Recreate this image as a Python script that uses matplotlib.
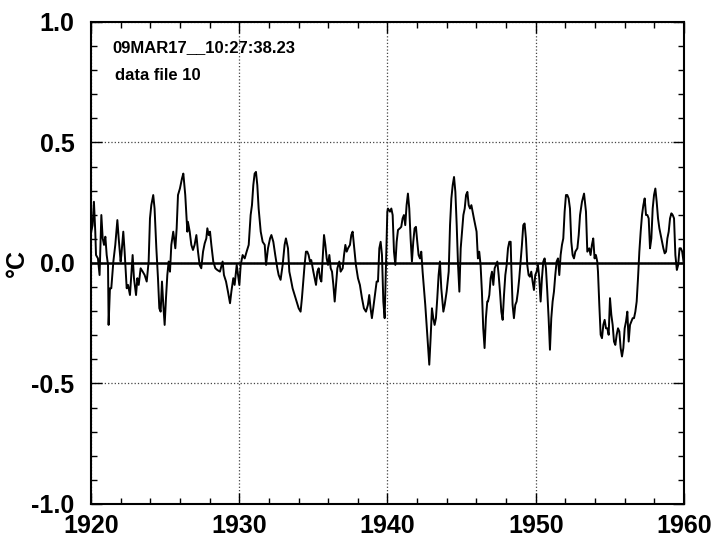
import matplotlib
matplotlib.use("Agg")
import matplotlib.pyplot as plt
from matplotlib.ticker import MultipleLocator

# anomaly series (year, degC)
years = [
    1920.02, 1920.11, 1920.20, 1920.29, 1920.34, 1920.47, 1920.58, 1920.70, 1920.79, 1920.88,
    1920.97, 1921.06, 1921.15, 1921.19, 1921.28, 1921.37, 1921.51, 1921.64, 1921.78, 1921.87,
    1922.00, 1922.05, 1922.18, 1922.27, 1922.41, 1922.50, 1922.63, 1922.72, 1922.81, 1922.90,
    1923.04, 1923.13, 1923.22, 1923.35, 1923.49, 1923.62, 1923.76, 1923.89, 1923.98, 1924.07,
    1924.20, 1924.29, 1924.41, 1924.52, 1924.61, 1924.70, 1924.79, 1924.88, 1924.97, 1925.06,
    1925.15, 1925.24, 1925.33, 1925.42, 1925.55, 1925.69, 1925.78, 1925.87, 1926.00, 1926.14,
    1926.23, 1926.36, 1926.50,
    1926.54, 1926.66, 1926.77, 1926.88, 1926.99, 1927.11, 1927.22, 1927.33, 1927.44, 1927.56,
    1927.67, 1927.78, 1927.85, 1927.94, 1928.03, 1928.12, 1928.25, 1928.39, 1928.52, 1928.70,
    1928.88, 1928.97, 1929.11, 1929.24, 1929.38, 1929.47, 1929.60, 1929.69, 1929.83, 1929.92,
    1930.01, 1930.10, 1930.23, 1930.37, 1930.50, 1930.64, 1930.77, 1930.86, 1930.95, 1931.04,
    1931.13, 1931.22, 1931.31, 1931.45, 1931.58, 1931.72, 1931.81, 1931.94, 1932.08, 1932.17,
    1932.30, 1932.43, 1932.57, 1932.66, 1932.79, 1932.93, 1933.06, 1933.15, 1933.29,
    1933.38, 1933.47, 1933.60, 1933.74, 1933.87, 1934.01, 1934.14, 1934.23, 1934.32, 1934.41,
    1934.50, 1934.59, 1934.68, 1934.77, 1934.86, 1935.00, 1935.09, 1935.18, 1935.27, 1935.36,
    1935.45, 1935.54, 1935.63, 1935.72, 1935.81, 1935.90, 1935.99, 1936.08, 1936.17, 1936.26,
    1936.35, 1936.44, 1936.53, 1936.62, 1936.75, 1936.84, 1936.98, 1937.07, 1937.16, 1937.25,
    1937.34, 1937.47, 1937.56, 1937.65, 1937.74, 1937.87, 1938.01, 1938.14, 1938.28, 1938.41,
    1938.55, 1938.68, 1938.77, 1938.86, 1938.95, 1939.04, 1939.18, 1939.27, 1939.36, 1939.45,
    1939.54, 1939.63, 1939.72, 1939.81, 1939.90, 1939.99,
    1940.03, 1940.17, 1940.26, 1940.35, 1940.44, 1940.53, 1940.62, 1940.71, 1940.84, 1940.93,
    1941.02, 1941.11, 1941.20, 1941.29, 1941.38, 1941.47, 1941.56, 1941.65, 1941.74, 1941.83,
    1941.92, 1942.01, 1942.10, 1942.19, 1942.28, 1942.37, 1942.46, 1942.55, 1942.64, 1942.73,
    1942.82, 1942.91, 1943.00, 1943.09, 1943.18, 1943.27, 1943.36, 1943.45, 1943.54, 1943.63,
    1943.77, 1943.86, 1943.99, 1944.13, 1944.22, 1944.31, 1944.40, 1944.49, 1944.58, 1944.67,
    1944.76, 1944.85, 1944.94, 1945.03, 1945.12, 1945.21, 1945.30, 1945.39, 1945.48, 1945.57,
    1945.66, 1945.74, 1945.83, 1945.92, 1946.01, 1946.10, 1946.19, 1946.28, 1946.37, 1946.46,
    1946.55, 1946.64, 1946.73,
    1946.78, 1946.87, 1946.96, 1947.05, 1947.14, 1947.23, 1947.32, 1947.41, 1947.50, 1947.59,
    1947.68, 1947.77, 1947.86, 1947.95, 1948.04, 1948.13, 1948.22, 1948.31, 1948.35, 1948.44,
    1948.53, 1948.62, 1948.71, 1948.80, 1948.89, 1948.98, 1949.07, 1949.16, 1949.25, 1949.34,
    1949.43, 1949.52, 1949.61, 1949.70, 1949.79, 1949.88, 1949.97, 1950.06, 1950.15, 1950.24,
    1950.33, 1950.42, 1950.51, 1950.60, 1950.69, 1950.78, 1950.87, 1950.96, 1951.05, 1951.14,
    1951.23, 1951.32, 1951.41, 1951.50, 1951.59, 1951.68, 1951.77, 1951.86, 1951.95, 1952.04,
    1952.13, 1952.22, 1952.31, 1952.40, 1952.49, 1952.58, 1952.67, 1952.81, 1952.90, 1952.99,
    1953.12, 1953.26, 1953.39, 1953.48,
    1953.61, 1953.70, 1953.79, 1953.88, 1953.97, 1954.06, 1954.15, 1954.20, 1954.29, 1954.38,
    1954.47, 1954.56, 1954.65, 1954.74, 1954.83, 1954.92, 1955.01, 1955.10, 1955.19, 1955.28,
    1955.37, 1955.46, 1955.55, 1955.64, 1955.73, 1955.82, 1955.91, 1956.00, 1956.09, 1956.18,
    1956.27, 1956.36, 1956.45, 1956.54, 1956.63, 1956.72, 1956.81, 1956.90, 1956.99, 1957.08,
    1957.17, 1957.26, 1957.35, 1957.44, 1957.53, 1957.62, 1957.71, 1957.80, 1957.89, 1957.98,
    1958.07, 1958.16, 1958.25, 1958.34, 1958.43, 1958.52, 1958.61, 1958.70, 1958.79, 1958.88,
    1958.97, 1959.06, 1959.15, 1959.24, 1959.33, 1959.42, 1959.52, 1959.61, 1959.70, 1959.79,
    1959.88, 1959.97,
]
anom = [
    0.130, 0.157, 0.254, 0.130, 0.033, 0.019, -0.050, 0.199, 0.102, 0.075,
    0.109, 0.033, -0.008, -0.257, -0.105, -0.105, 0.006, 0.075, 0.178, 0.102,
    0.006, 0.033, 0.130, 0.047, -0.105, -0.091, -0.133, -0.050, 0.033, -0.063,
    -0.133, -0.063, -0.091, -0.022, -0.036, -0.050, -0.077, 0.006, 0.185, 0.240,
    0.282, 0.226, 0.061, -0.063, -0.188, -0.202, -0.077, -0.174, -0.257, -0.146,
    -0.050, 0.006, -0.036, 0.075, 0.130, 0.061, 0.144, 0.282, 0.309, 0.351,
    0.371, 0.282, 0.130,
    0.171, 0.130, 0.075, 0.054, 0.075, 0.116, 0.047, -0.008, -0.022, 0.047,
    0.081, 0.102, 0.144, 0.116, 0.130, 0.075, 0.006, -0.022, -0.029, -0.036,
    0.006, -0.050, -0.077, -0.119, -0.167, -0.119, -0.063, -0.091, -0.008, -0.050,
    -0.091, -0.008, 0.033, 0.019, 0.047, 0.075, 0.199, 0.240, 0.323, 0.371,
    0.378, 0.323, 0.226, 0.130, 0.088, 0.075, -0.008, 0.061, 0.102, 0.116,
    0.088, 0.033, -0.022, -0.050, -0.070, -0.008, 0.075, 0.102, 0.061,
    -0.036, -0.063, -0.105, -0.133, -0.160, -0.188, -0.202, -0.146, -0.077, -0.008,
    0.047, 0.047, 0.033, 0.006, 0.012, -0.036, -0.063, -0.091, -0.036, -0.022,
    -0.063, -0.077, 0.019, 0.116, 0.075, 0.019, -0.008, 0.033, -0.022, -0.036,
    -0.091, -0.160, -0.091, -0.022, 0.006, -0.036, -0.022, 0.033, 0.075, 0.047,
    0.061, 0.075, 0.116, 0.130, 0.075, -0.008, -0.063, -0.091, -0.146, -0.188,
    -0.202, -0.174, -0.133, -0.188, -0.229, -0.188, -0.119, -0.077, -0.077, 0.061,
    0.088, 0.033, -0.160, -0.229, -0.008, 0.213,
    0.226, 0.213, 0.226, 0.199, 0.047, -0.008, 0.088, 0.137, 0.144, 0.150,
    0.185, 0.199, 0.157, 0.240, 0.288, 0.226, 0.102, 0.006, 0.088, 0.144,
    0.150, 0.088, 0.033, 0.019, 0.047, -0.036, -0.105, -0.174, -0.257, -0.340,
    -0.422, -0.312, -0.188, -0.229, -0.257, -0.229, -0.146, -0.050, 0.006, -0.105,
    -0.202, -0.174, -0.119, -0.036, 0.157, 0.268, 0.323, 0.357, 0.295, 0.157,
    -0.008, -0.119, 0.061, 0.130, 0.199, 0.226, 0.282, 0.295, 0.240, 0.226,
    0.240, 0.213, 0.185, 0.157, 0.130, 0.019, 0.047, -0.008, -0.119, -0.271,
    -0.353, -0.229, -0.160,
    -0.160, -0.133, -0.063, -0.036, -0.091, -0.022, -0.008, 0.006, -0.050, -0.119,
    -0.202, -0.236, -0.133, -0.050, -0.008, 0.061, 0.088, 0.088, -0.008, -0.174,
    -0.229, -0.174, -0.160, -0.119, -0.063, 0.006, 0.075, 0.157, 0.164, 0.102,
    -0.008, -0.050, -0.057, -0.036, -0.077, -0.112, -0.050, -0.036, -0.008, -0.063,
    -0.160, -0.063, 0.006, 0.019, -0.022, -0.119, -0.229, -0.360, -0.229, -0.160,
    -0.119, -0.050, 0.006, 0.019, -0.050, 0.033, 0.075, 0.102, 0.213, 0.282,
    0.282, 0.268, 0.226, 0.088, 0.033, 0.019, 0.047, 0.061, 0.116, 0.199,
    0.254, 0.288, 0.213, 0.047,
    0.061, 0.033, 0.075, 0.102, 0.019, 0.033, 0.006, -0.036, -0.174, -0.298,
    -0.312, -0.257, -0.236, -0.271, -0.271, -0.298, -0.146, -0.215, -0.257, -0.326,
    -0.340, -0.298, -0.271, -0.284, -0.353, -0.388, -0.353, -0.271, -0.243, -0.202,
    -0.326, -0.257, -0.243, -0.229, -0.229, -0.202, -0.160, -0.063, 0.047, 0.130,
    0.199, 0.240, 0.268, 0.199, 0.199, 0.185, 0.061, 0.102, 0.226, 0.282,
    0.309, 0.254, 0.185, 0.144, 0.116, 0.088, 0.061, 0.040, 0.047, 0.102,
    0.130, 0.185, 0.206, 0.199, 0.185, 0.033, -0.029, -0.008, 0.061, 0.061,
    0.047, 0.006,
]

x_ticks = [1920, 1930, 1940, 1950, 1960]
y_ticks = [-1.0, -0.5, 0.0, 0.5, 1.0]
stamp = "09MAR17__10:27:38.23"
label = "data file 10"

plt.rcParams['font.family'] = ['Liberation Sans', 'DejaVu Sans']
plt.rcParams['font.weight'] = 'bold'

fig = plt.figure(figsize=(7.18, 5.54), dpi=100)
ax = fig.add_axes([0.1267, 0.0903, 0.8259, 0.8700])

ax.plot(years, anom, color='black', linewidth=1.4, zorder=3)
ax.axhline(0.0, color='black', linewidth=1.8, zorder=2)

ax.set_xlim(1920, 1960)
ax.set_ylim(-1.0, 1.0)
ax.set_xticks(x_ticks)
ax.set_yticks(y_ticks)
ax.set_yticklabels([f"{v:.1f}" for v in y_ticks])
ax.xaxis.set_minor_locator(MultipleLocator(2))
ax.yaxis.set_minor_locator(MultipleLocator(0.1))
ax.tick_params(which='both', direction='in', top=True, right=True, width=1.0)
ax.tick_params(which='major', length=8, labelsize=18)
ax.tick_params(which='minor', length=4)
ax.tick_params(axis='x', pad=7)
ax.tick_params(axis='y', pad=12)
for lab in ax.get_xticklabels() + ax.get_yticklabels():
    lab.set_fontweight('bold')

ax.grid(True, which='major', linestyle=':', color='#444444', linewidth=0.9)
for s in ax.spines.values():
    s.set_linewidth(1.5)

ax.set_ylabel("°C", fontsize=18, fontweight='bold')
ax.yaxis.set_label_coords(-0.105, 0.5)

ax.text(0.036, 0.947, stamp, transform=ax.transAxes, fontsize=12,
        fontweight='bold', va='center', ha='left')
ax.text(0.040, 0.890, label, transform=ax.transAxes, fontsize=12,
        fontweight='bold', va='center', ha='left')

fig.savefig("out.png", dpi=100)
